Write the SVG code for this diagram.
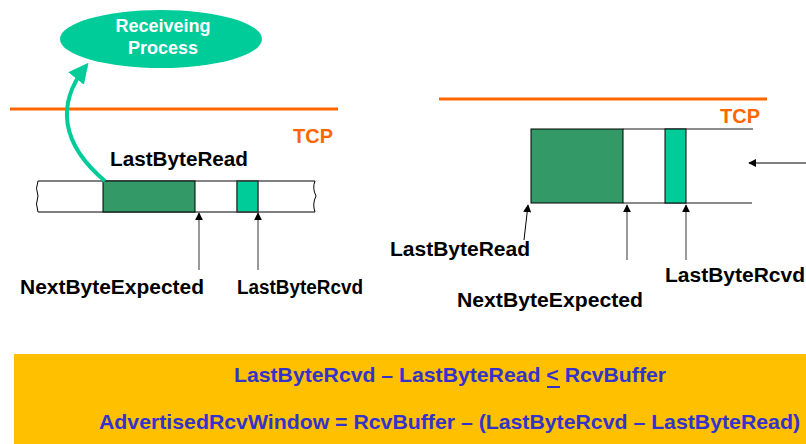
<svg xmlns="http://www.w3.org/2000/svg" width="806" height="444" viewBox="0 0 806 444">
<style>
.lbl{font-family:"Liberation Sans",Arial,sans-serif;font-weight:bold;font-size:20px;fill:#000}
.tcp{font-family:"Liberation Sans",Arial,sans-serif;font-weight:bold;font-size:20px;fill:#FF6600}
.eq{font-family:"Liberation Sans",Arial,sans-serif;font-weight:bold;font-size:21px;fill:#3333CC}
.orange{stroke:#FF6600;stroke-width:3;fill:none}
.ptr{stroke:#777;stroke-width:1.5;fill:none;marker-end:url(#ah)}
.edge{stroke:#666;stroke-width:1.5;fill:none}
</style>
<defs>
<marker id="ah" viewBox="0 0 10 10" refX="9" refY="5" markerWidth="8" markerHeight="8" markerUnits="userSpaceOnUse" orient="auto">
<path d="M0,0 L10,5 L0,10 z" fill="#000"/>
</marker>
<marker id="ahg" viewBox="0 0 10 10" refX="8" refY="5" markerWidth="5" markerHeight="5" orient="auto">
<path d="M0,0 L10,5 L0,10 z" fill="#00CC99"/>
</marker>
</defs>

<g id="receiving-process">
<ellipse cx="161" cy="39" rx="101" ry="29" fill="#00CC99"/>
<text x="163" y="32" text-anchor="middle" style="font-family:'Liberation Sans',Arial,sans-serif;font-weight:bold;font-size:18px;fill:#fff">Receiveing</text>
<text x="163" y="54" text-anchor="middle" style="font-family:'Liberation Sans',Arial,sans-serif;font-weight:bold;font-size:18px;fill:#fff">Process</text>
</g>

<g id="left-tcp">
<line x1="10" y1="109" x2="338" y2="109" class="orange"/>
<text x="293" y="143" class="tcp">TCP</text>
</g>

<g id="left-buffer">
<path d="M38,181 L315,181 Q312,188 316,196 Q312,204 315,212 L38,212 Q35,204 38,196 Q35,188 38,181 z" fill="#fff" stroke="#000" stroke-width="1"/>
<line x1="195" y1="181" x2="237" y2="181" stroke="#888" stroke-width="1.5"/>
<rect x="103" y="181" width="92" height="31" fill="#339966" stroke="#000" stroke-width="1"/>
<rect x="237" y="181" width="21" height="31" fill="#00CC99" stroke="#333" stroke-width="1.5"/>
<text x="110" y="166" class="lbl" textLength="138" lengthAdjust="spacingAndGlyphs">LastByteRead</text>
<text x="20" y="294" class="lbl" textLength="184" lengthAdjust="spacingAndGlyphs">NextByteExpected</text>
<text x="237" y="294" class="lbl" textLength="126" lengthAdjust="spacingAndGlyphs">LastByteRcvd</text>
</g>

<g id="right-tcp">
<line x1="439" y1="99" x2="767" y2="99" class="orange"/>
<text x="720" y="123" class="tcp">TCP</text>
</g>

<g id="right-buffer">
<line x1="623" y1="129" x2="753" y2="129" class="edge"/>
<line x1="623" y1="203" x2="752" y2="203" class="edge"/>
<rect x="531" y="129" width="92" height="74" fill="#339966" stroke="#000" stroke-width="1"/>
<rect x="665" y="129" width="21" height="74" fill="#00CC99" stroke="#000" stroke-width="1"/>
<text x="390" y="256" class="lbl" textLength="140" lengthAdjust="spacingAndGlyphs">LastByteRead</text>
<text x="457" y="307" class="lbl" textLength="186" lengthAdjust="spacingAndGlyphs">NextByteExpected</text>
<text x="665" y="282" class="lbl" textLength="140" lengthAdjust="spacingAndGlyphs">LastByteRcvd</text>
</g>

<g id="connectors">
<path d="M105,181 C62,145 55,105 86,66" stroke="#00CC99" stroke-width="4" fill="none" marker-end="url(#ahg)"/>
<line x1="199" y1="270" x2="199" y2="213" class="ptr"/>
<line x1="258" y1="270" x2="258" y2="213" class="ptr"/>
<line x1="524" y1="240" x2="528" y2="205" class="ptr" style="stroke:#000;stroke-width:1"/>
<line x1="627" y1="260" x2="627" y2="205" class="ptr"/>
<line x1="686" y1="260" x2="686" y2="205" class="ptr"/>
<line x1="806" y1="163" x2="749" y2="163" class="ptr" style="stroke:#000;stroke-width:1"/>
</g>

<g id="formula-box">
<rect x="14" y="354" width="792" height="90" fill="#FFC000"/>
<text x="234" y="382" class="eq" textLength="432" lengthAdjust="spacingAndGlyphs">LastByteRcvd – LastByteRead &lt; RcvBuffer</text>
<line x1="547" y1="387" x2="560" y2="387" stroke="#3333CC" stroke-width="2"/>
<text x="99" y="429" class="eq" textLength="701" lengthAdjust="spacingAndGlyphs">AdvertisedRcvWindow = RcvBuffer – (LastByteRcvd – LastByteRead)</text>
</g>
</svg>
